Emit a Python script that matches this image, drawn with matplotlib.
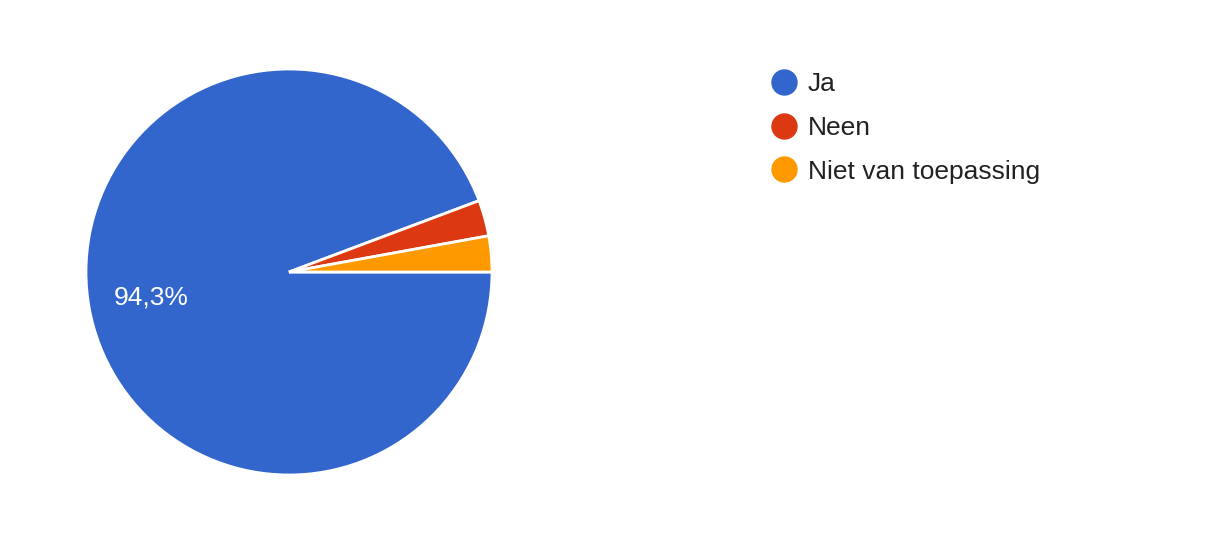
import matplotlib.pyplot as plt
from matplotlib.lines import Line2D

plt.rcParams['font.family'] = ['Liberation Sans', 'DejaVu Sans']

# Antwoorden (aantallen)
labels = ['Ja', 'Neen', 'Niet van toepassing']
counts = [33, 1, 1]
colors = ['#3366cc', '#dc3912', '#ff9900']

W, H = 1220, 534
fig = plt.figure(figsize=(W / 100, H / 100), dpi=100)

# pie area in pixels: center (289, 272), radius 203
cx, cy, r = 289, 272, 203
ax = fig.add_axes([(cx - r) / W, (H - cy - r) / H, 2 * r / W, 2 * r / H])


def pct_label(p):
    if p < 5:
        return ''
    return f'{p:.1f}%'.replace('.', ',')


wedges, texts, autotexts = ax.pie(
    counts, colors=colors, startangle=0, counterclock=False,
    autopct=pct_label, pctdistance=0.69, radius=1,
    wedgeprops=dict(edgecolor='white', linewidth=2),
    textprops=dict(color='white', fontsize=19))
ax.set_xlim(-1.0, 1.0)
ax.set_ylim(-1.0, 1.0)
ax.set_aspect('equal')
ax.axis('off')

handles = [Line2D([0], [0], marker='o', linestyle='none', markersize=18,
                  markerfacecolor=c, markeredgecolor=c) for c in colors]
fig.legend(handles, labels, loc='upper left',
           bbox_to_anchor=(771 / W, 1 - 72 / H), frameon=False,
           fontsize=19, handlelength=1.0, handletextpad=0.4,
           labelspacing=0.75, borderpad=0, borderaxespad=0,
           labelcolor='#222222')

fig.savefig('out.png', dpi=100, facecolor='white')
